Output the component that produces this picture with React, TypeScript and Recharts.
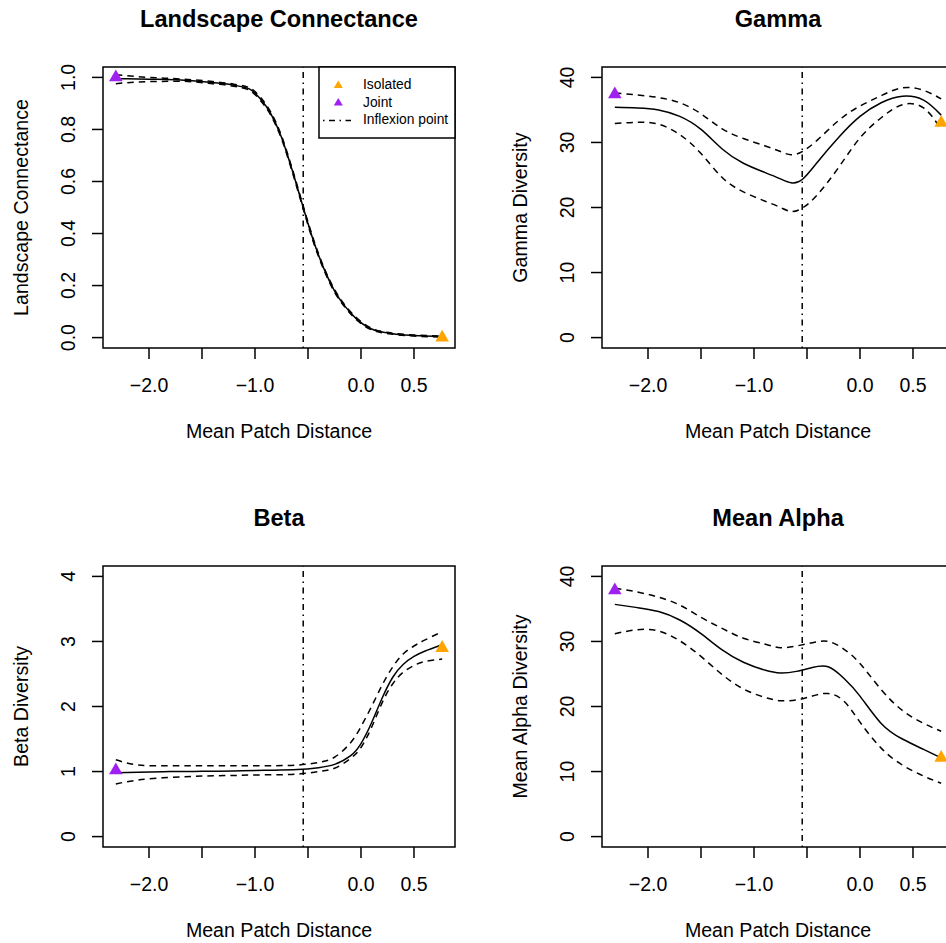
import {
  ComposedChart,
  Line,
  Scatter,
  XAxis,
  YAxis,
  ZAxis,
  ReferenceLine,
  ReferenceArea,
} from 'recharts'

const FONT = '"Liberation Sans", Arial, Helvetica, sans-serif'
const JOINT_COLOR = '#A020F0'
const ISOLATED_COLOR = '#FFA500'

// shared x axis (Mean Patch Distance)
const X_DOMAIN = [-2.434, 0.887]
const X_TICKS = [-2.0, -1.5, -1.0, -0.5, 0.0, 0.5]
const X_LABELED = [-2.0, -1.0, 0.0, 0.5]
const INFLEXION_X = -0.545
const JOINT_X = -2.313
const ISOLATED_X = 0.766

// Landscape Connectance
const connectanceX = [-2.313, -2.0, -1.7, -1.4, -1.2, -1.05, -0.95, -0.85, -0.75, -0.65, -0.545, -0.45, -0.35, -0.25, -0.15, -0.05, 0.1, 0.3, 0.5, 0.766]
const connectanceFit = [0.995, 0.993, 0.99, 0.98, 0.97, 0.955, 0.918, 0.86, 0.77, 0.645, 0.5, 0.374, 0.265, 0.18, 0.12, 0.075, 0.033, 0.015, 0.008, 0.004]
const connectanceUpper = [1.01, 1.0, 0.994, 0.984, 0.974, 0.96, 0.924, 0.866, 0.776, 0.651, 0.506, 0.38, 0.27, 0.185, 0.124, 0.079, 0.036, 0.017, 0.01, 0.006]
const connectanceLower = [0.976, 0.984, 0.985, 0.976, 0.966, 0.95, 0.912, 0.854, 0.764, 0.639, 0.494, 0.368, 0.26, 0.175, 0.116, 0.071, 0.03, 0.013, 0.006, 0.002]
const connectanceTicks = [0, 0.2, 0.4, 0.6, 0.8, 1.0]

// Gamma
const gammaX = [-2.313, -2.1, -1.9, -1.7, -1.5, -1.3, -1.1, -0.9, -0.75, -0.65, -0.545, -0.4, -0.2, 0.0, 0.2, 0.4, 0.6, 0.766]
const gammaFit = [35.4, 35.3, 35.0, 34.0, 32.0, 29.0, 26.8, 25.4, 24.4, 23.8, 24.3, 27.0, 30.8, 34.0, 36.1, 37.1, 36.5, 34.2]
const gammaUpper = [37.6, 37.3, 36.9, 36.1, 34.4, 32.1, 30.6, 29.5, 28.6, 28.1, 28.6, 30.4, 33.4, 35.6, 37.2, 38.4, 38.0, 36.7]
const gammaLower = [32.9, 33.1, 32.8, 31.2, 28.3, 24.6, 22.4, 21.0, 20.0, 19.4, 19.9, 22.0, 26.2, 30.7, 33.8, 35.8, 35.3, 32.0]
const diversityTicks = [0, 10, 20, 30, 40]

// Beta
const betaX = [-2.313, -2.1, -1.8, -1.5, -1.2, -0.9, -0.6, -0.4, -0.25, -0.1, 0.0, 0.1, 0.2, 0.3, 0.4, 0.5, 0.6, 0.766]
const betaFit = [0.98, 0.99, 1.0, 1.003, 1.01, 1.02, 1.03, 1.06, 1.11, 1.24, 1.43, 1.75, 2.13, 2.45, 2.65, 2.77, 2.85, 2.95]
const betaUpper = [1.18, 1.1, 1.09, 1.09, 1.09, 1.09, 1.1, 1.14, 1.22, 1.44, 1.69, 2.0, 2.33, 2.61, 2.81, 2.93, 3.02, 3.15]
const betaLower = [0.81, 0.87, 0.91, 0.93, 0.94, 0.95, 0.96, 1.0, 1.05, 1.2, 1.37, 1.68, 2.06, 2.35, 2.53, 2.63, 2.69, 2.73]
const betaTicks = [0, 1, 2, 3, 4]

// Mean Alpha
const alphaX = [-2.313, -2.1, -1.9, -1.7, -1.5, -1.3, -1.1, -0.9, -0.75, -0.6, -0.45, -0.3, -0.15, 0.0, 0.2, 0.4, 0.6, 0.766]
const alphaFit = [35.7, 35.2, 34.6, 33.3, 31.2, 28.7, 26.8, 25.6, 25.15, 25.4, 26.0, 26.1, 24.3, 21.6, 17.4, 15.0, 13.4, 12.1]
const alphaUpper = [38.2, 37.6, 36.8, 35.6, 33.7, 32.0, 30.5, 29.6, 29.05, 29.3, 29.8, 30.0, 28.8, 26.6, 22.6, 19.4, 17.4, 16.2]
const alphaLower = [31.2, 31.8, 31.6, 30.1, 27.7, 24.9, 22.7, 21.4, 20.9, 21.0, 21.6, 22.0, 20.8, 17.6, 13.6, 11.0, 9.3, 8.2]

// marker values: Joint (left), Isolated (right)
const jointY = [1.0, 37.4, 1.02, 37.85]
const isolatedY = [0.0, 33.0, 2.9, 12.1]

const panelTitles = ['Landscape Connectance', 'Gamma', 'Beta', 'Mean Alpha']
const yTitles = ['Landscape Connectance', 'Gamma Diversity', 'Beta Diversity', 'Mean Alpha Diversity']
const X_TITLE = 'Mean Patch Distance'

function makeRows(xs: number[], fit: number[], upper: number[], lower: number[]) {
  return xs.map((x, i) => ({ x, fit: fit[i], upper: upper[i], lower: lower[i] }))
}

function padDomain(lo: number, hi: number): [number, number] {
  const pad = (hi - lo) * 0.04
  return [lo - pad, hi + pad]
}

const panels = [
  { rows: makeRows(connectanceX, connectanceFit, connectanceUpper, connectanceLower), yTicks: connectanceTicks, yDomain: padDomain(0, 1), digits: 1, curve: 'monotone' },
  { rows: makeRows(gammaX, gammaFit, gammaUpper, gammaLower), yTicks: diversityTicks, yDomain: padDomain(0, 40), digits: 0, curve: 'natural' },
  { rows: makeRows(betaX, betaFit, betaUpper, betaLower), yTicks: betaTicks, yDomain: padDomain(0, 4), digits: 0, curve: 'natural' },
  { rows: makeRows(alphaX, alphaFit, alphaUpper, alphaLower), yTicks: diversityTicks, yDomain: padDomain(0, 40), digits: 0, curve: 'natural' },
]

// plot box positions on the page (R mfrow layout, right column partly cropped)
const BOX_LEFT = [103, 602, 103, 602]
const BOX_TOP = [67, 67, 566, 566]
const BOX_W = 352
const BOX_H = 281

const fmt = (v: number, digits: number) => v.toFixed(digits).replace('-', '\u2212')

function XTick(props: any) {
  const { x, y, payload } = props
  if (!X_LABELED.includes(payload.value)) return null
  return (
    <text x={x} y={y + 33} textAnchor="middle" fontSize={19.5} fontFamily={FONT} fill="#000">
      {fmt(payload.value, 1)}
    </text>
  )
}

function makeYTick(digits: number) {
  return function YTick(props: any) {
    const { x, y, payload } = props
    return (
      <text
        transform={`translate(${x - 17},${y}) rotate(-90)`}
        textAnchor="middle"
        fontSize={19.5}
        fontFamily={FONT}
        fill="#000"
      >
        {fmt(payload.value, digits)}
      </text>
    )
  }
}

function Panel({ index }: { index: number }) {
  const p = panels[index]
  const left = index % 2 === 0 ? 0 : 473
  const top = index < 2 ? 0 : 470
  const width = 500
  const height = 473
  const yAxisW = 100
  const xAxisH = 60
  const margin = {
    top: BOX_TOP[index] - top,
    left: BOX_LEFT[index] - left - yAxisW,
    right: width - (BOX_LEFT[index] - left + BOX_W),
    bottom: height - (BOX_TOP[index] - top + BOX_H) - xAxisH,
  }
  const curve = p.curve as 'monotone' | 'natural'
  return (
    <div style={{ position: 'absolute', left, top, width, height }}>
      <ComposedChart width={width} height={height} data={p.rows} margin={margin}>
        <XAxis
          dataKey="x"
          type="number"
          domain={X_DOMAIN}
          allowDataOverflow
          ticks={X_TICKS}
          interval={0}
          height={xAxisH}
          axisLine={false}
          tickSize={11}
          tickMargin={0}
          tickLine={{ stroke: '#000', strokeWidth: 1.5 }}
          tick={<XTick />}
        />
        <YAxis
          type="number"
          domain={p.yDomain}
          allowDataOverflow
          ticks={p.yTicks}
          interval={0}
          width={yAxisW}
          axisLine={false}
          tickSize={11}
          tickMargin={0}
          tickLine={{ stroke: '#000', strokeWidth: 1.5 }}
          tick={makeYTick(p.digits)}
        />
        <ZAxis range={[80, 80]} />
        <ReferenceArea
          x1={X_DOMAIN[0]}
          x2={X_DOMAIN[1]}
          y1={p.yDomain[0]}
          y2={p.yDomain[1]}
          fill="none"
          fillOpacity={0}
          stroke="#000"
          strokeWidth={1.5}
          ifOverflow="visible"
        />
        <ReferenceLine x={INFLEXION_X} stroke="#000" strokeWidth={1.5} strokeDasharray="1.5 4.5 6 4.5" />
        <Line type={curve} dataKey="upper" stroke="#000" strokeWidth={1.5} strokeDasharray="6.5 5" dot={false} isAnimationActive={false} />
        <Line type={curve} dataKey="lower" stroke="#000" strokeWidth={1.5} strokeDasharray="6.5 5" dot={false} isAnimationActive={false} />
        <Line type={curve} dataKey="fit" stroke="#000" strokeWidth={1.5} dot={false} isAnimationActive={false} />
        <Scatter data={[{ x: JOINT_X, y: jointY[index] }]} dataKey="y" shape="triangle" fill={JOINT_COLOR} isAnimationActive={false} />
        <Scatter data={[{ x: ISOLATED_X, y: isolatedY[index] }]} dataKey="y" shape="triangle" fill={ISOLATED_COLOR} isAnimationActive={false} />
      </ComposedChart>
    </div>
  )
}

function Overlay() {
  const legendItems = [
    { label: 'Isolated', color: ISOLATED_COLOR },
    { label: 'Joint', color: JOINT_COLOR },
  ]
  return (
    <svg width={946} height={943} style={{ position: 'absolute', left: 0, top: 0, pointerEvents: 'none' }} fontFamily={FONT}>
      {panelTitles.map((t, i) => (
        <text key={t + i} x={BOX_LEFT[i] + BOX_W / 2} y={BOX_TOP[i] - 40} textAnchor="middle" fontSize={23.6} fontWeight="bold">
          {t}
        </text>
      ))}
      {panelTitles.map((_, i) => (
        <text key={'xt' + i} x={BOX_LEFT[i] + BOX_W / 2} y={BOX_TOP[i] + 371} textAnchor="middle" fontSize={19.6}>
          {X_TITLE}
        </text>
      ))}
      {yTitles.map((t, i) => (
        <text
          key={'yt' + i}
          transform={`translate(${BOX_LEFT[i] - 75},${BOX_TOP[i] + BOX_H / 2}) rotate(-90)`}
          textAnchor="middle"
          fontSize={19.6}
        >
          {t}
        </text>
      ))}
      <rect x={319} y={67} width={136} height={71} fill="#fff" stroke="#000" strokeWidth={1.5} />
      {legendItems.map((item, i) => (
        <g key={item.label}>
          <path
            d={`M ${338.3 - 4.5} ${88 + i * 17.6} L ${338.3 + 4.5} ${88 + i * 17.6} L 338.3 ${80.5 + i * 17.6} Z`}
            fill={item.color}
          />
          <text x={363} y={89 + i * 17.6} fontSize={13.8}>
            {item.label}
          </text>
        </g>
      ))}
      <line x1={323} x2={351} y1={120.5} y2={120.5} stroke="#000" strokeWidth={1.5} strokeDasharray="1.5 4.5 6 4.5" />
      <text x={363} y={124.3} fontSize={13.8}>
        Inflexion point
      </text>
    </svg>
  )
}

export default function App() {
  return (
    <div style={{ position: 'absolute', left: 0, top: 0, width: 946, height: 943, overflow: 'hidden', background: '#fff' }}>
      {[0, 1, 2, 3].map((i) => (
        <Panel key={i} index={i} />
      ))}
      <Overlay />
    </div>
  )
}
